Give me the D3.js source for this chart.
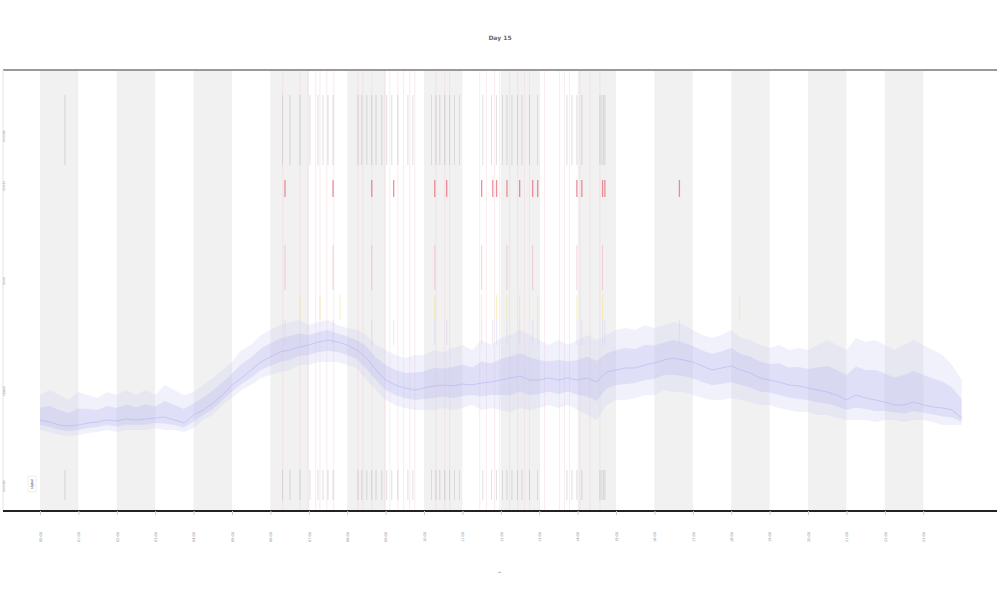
<!DOCTYPE html>
<html><head><meta charset="utf-8">
<script src="https://cdn.jsdelivr.net/npm/d3@7"></script>
<style>body{margin:0;background:#fff}svg{display:block}text{font-family:"DejaVu Sans",sans-serif}</style>
</head><body>
<script>
// ---- data ----
const title = "Day 15";
const xLabel = "t";
const yLabels = ["events", "alerts", "level", "signal", "events"];
const tickLabels = d3.range(0, 24).map(h => String(h).padStart(2, "0") + ":00");
const bandStarts = [0, 2, 4, 6, 8, 10, 12, 14, 16, 18, 20, 22];
const sampleT = d3.range(0, 24.01, 0.25);
const signalHi = [11.6,12.1,11.6,11.1,11.9,11.6,11.3,11.9,11.6,12.1,11.6,12.1,11.6,12.6,12.1,11.6,11.9,12.6,13.3,14.1,14.9,16.1,16.6,17.6,18.1,18.6,18.9,19.1,18.6,18.9,19.1,18.6,18.3,18.1,17.6,16.6,16.1,15.6,15.3,15.6,15.6,16.1,15.9,16.3,16.6,16.1,17.1,16.6,17.3,17.6,18.1,17.6,17.1,16.6,17.1,16.6,17.1,17.6,17.1,17.6,18.1,18.3,18.1,18.6,18.3,18.6,18.9,18.6,18.1,17.6,17.3,17.6,18.1,17.3,17.1,16.6,16.3,16.6,16.1,16.3,16.1,16.6,17.1,16.6,16.1,17.3,16.9,17.1,16.6,16.1,16.6,17.1,16.6,16.1,15.6,14.6,13.1];
const signalLo = [8.1,7.9,7.6,7.5,7.6,7.8,7.9,8.1,7.9,8.1,8.1,8.1,8.3,8.1,8.1,7.9,8.3,9.1,9.6,10.6,11.3,12.1,12.6,13.3,13.6,13.9,14.1,14.6,14.6,14.9,14.9,14.9,14.6,14.3,13.1,12.1,11.1,10.6,10.3,10.1,10.1,10.1,10.3,10.1,10.3,10.6,10.1,10.3,10.1,9.9,10.3,10.1,10.3,10.6,10.3,10.6,10.1,9.6,9.1,10.6,11.1,11.1,11.3,11.6,11.6,12.1,11.9,11.9,11.6,11.3,11.1,11.1,11.3,11.1,10.9,10.6,10.6,10.3,10.1,9.9,9.9,9.6,9.6,9.3,9.1,9.1,9.1,8.9,9.1,9.1,8.9,9.1,9.1,8.9,8.6,8.6,8.6];
const signalMid = [9.1,8.9,8.6,8.5,8.6,8.8,8.9,9.1,9.0,9.2,9.1,9.2,9.3,9.4,9.1,8.8,9.6,10.1,10.8,11.6,12.6,13.3,14.1,14.9,15.4,15.9,16.1,16.4,16.6,16.9,17.1,16.9,16.6,16.1,15.3,14.1,13.1,12.6,12.3,12.1,12.3,12.5,12.6,12.5,12.7,12.6,12.8,12.9,13.1,13.3,13.5,13.1,13.1,13.3,13.1,13.3,13.1,13.3,12.9,13.9,14.1,14.3,14.3,14.6,14.8,15.1,15.3,15.1,14.9,14.5,14.1,14.3,14.5,14.1,13.8,13.3,13.1,12.9,12.6,12.5,12.3,12.1,11.9,11.6,11.1,11.6,11.3,11.1,10.9,10.6,10.6,10.9,10.6,10.4,10.3,10.1,9.3];
const eventTimes = [0.65,6.32,6.51,6.77,7.03,7.24,7.37,7.50,7.63,8.28,8.38,8.51,8.64,8.75,8.90,9.03,9.16,9.32,9.58,9.71,10.20,10.31,10.41,10.54,10.67,10.80,10.93,11.53,11.76,11.89,12.05,12.16,12.29,12.44,12.55,12.75,12.96,13.72,13.85,13.98,14.11,14.58,14.63,14.67,14.71];
const alertTimes = [6.38,7.63,8.64,9.21,10.28,10.59,11.50,11.79,11.89,12.16,12.49,12.83,12.96,13.98,14.11,14.65,14.71,16.65];
const alertMidTimes = [6.38,7.63,8.64,10.28,11.50,12.16,12.83,13.98,14.65];
const warnTimes = [6.77,7.29,7.81,10.28,11.50,11.89,12.16,12.49,12.96,13.98,14.65,18.22];
const markerTimes = [6.32,6.77,6.98,7.18,7.29,7.47,7.65,8.28,8.41,8.64,8.98,9.11,9.32,9.47,9.63,9.76,10.31,10.54,10.67,11.45,11.63,11.84,11.97,12.23,12.44,12.62,12.75,13.01,13.14,13.53,13.66,13.79,14.06,14.32,14.58];

// ---- chart ----
const W = 1000, H = 600;
const svg = d3.select("body").append("svg").attr("width", W).attr("height", H);
const x = d3.scaleLinear().domain([-0.963, 24.92]).range([3, 997]);
const y = d3.scaleLinear().domain([0, 44.1]).range([511, 70]);

// alternating bands
svg.append("g").selectAll("rect").data(bandStarts).join("rect")
  .attr("x", d => x(d)).attr("width", d => x(d + 1) - x(d))
  .attr("y", y(44.1)).attr("height", y(0) - y(44.1))
  .attr("fill", "#f1f1f1");

// full-height marker lines
svg.append("g").selectAll("line").data(markerTimes).join("line")
  .attr("x1", d => x(d)).attr("x2", d => x(d))
  .attr("y1", y(44.1)).attr("y2", y(0))
  .attr("stroke", "#f4ccd6").attr("stroke-width", 0.7).attr("opacity", 0.55);

function ticks(data, v1, v2, color, w, op) {
  svg.append("g").selectAll("line").data(data).join("line")
    .attr("x1", d => x(d)).attr("x2", d => x(d))
    .attr("y1", y(v1)).attr("y2", y(v2))
    .attr("stroke", color).attr("stroke-width", w).attr("opacity", op);
}
ticks(eventTimes, 41.6, 34.6, "#666", 0.5, 0.4);
ticks(eventTimes, 4.1, 1.1, "#666", 0.5, 0.4);
ticks(alertTimes, 33.1, 31.4, "#e4485c", 1.3, 0.6);
ticks(alertMidTimes, 26.6, 22.1, "#e86878", 0.8, 0.35);
ticks(warnTimes, 21.6, 19.1, "#f0e47a", 1, 0.5);
ticks(alertTimes, 19.1, 16.6, "#c8c8f2", 1, 0.4);

// signal envelope
const rows = sampleT.map((t, i) => ({t, hi: signalHi[i], lo: signalLo[i], mid: signalMid[i]}));
svg.append("path").datum(rows)
  .attr("d", d3.area().x(d => x(d.t)).y0(d => y(d.lo)).y1(d => y(d.hi)))
  .attr("fill", "#d0d0f6").attr("opacity", 0.3);
svg.append("path").datum(rows)
  .attr("d", d3.area().x(d => x(d.t)).y0(d => y((d.lo + d.mid) / 2)).y1(d => y((d.hi + d.mid) / 2)))
  .attr("fill", "#bcbcf2").attr("opacity", 0.35);
svg.append("path").datum(rows)
  .attr("d", d3.line().x(d => x(d.t)).y(d => y(d.mid)))
  .attr("fill", "none").attr("stroke", "#a4a4ea").attr("stroke-width", 0.7).attr("opacity", 0.6);

// frame lines
svg.append("line").attr("x1", 3).attr("x2", 997).attr("y1", y(44.1)).attr("y2", y(44.1))
  .attr("stroke", "#999").attr("stroke-width", 2);
svg.append("line").attr("x1", 3).attr("x2", 3).attr("y1", y(44.1)).attr("y2", y(0))
  .attr("stroke", "#e4e4e4").attr("stroke-width", 1);

// x axis
const xAxis = d3.axisBottom(x).tickValues(d3.range(0, 24)).tickFormat((d, i) => tickLabels[i]).tickSize(4);
const gx = svg.append("g").attr("transform", `translate(0,${y(0)})`).call(xAxis);
gx.select(".domain").attr("stroke", "#222").attr("stroke-width", 2).attr("d", "M3,0H997");
gx.selectAll(".tick line").attr("stroke", "#ccc");
gx.selectAll(".tick text").attr("font-size", 3.5).attr("fill", "#888")
  .attr("transform", "translate(0,26) rotate(-90)").attr("text-anchor", "middle").attr("dy", "0.35em").attr("y", 0);

// y labels (tiny)
const yPos = [37.5, 32.5, 23, 12, 2.5];
svg.append("g").selectAll("text").data(yLabels).join("text")
  .attr("transform", (d, i) => `translate(5,${y(yPos[i])}) rotate(-90)`)
  .attr("text-anchor", "middle").attr("font-size", 3.5).attr("fill", "#aaa").text(d => d);

// legend
const lg = svg.append("g").attr("transform", "translate(28,476)");
lg.append("rect").attr("width", 8).attr("height", 16).attr("fill", "#fff").attr("stroke", "#ddd").attr("stroke-width", 0.5);
lg.append("text").attr("transform", "translate(5,8) rotate(-90)").attr("text-anchor", "middle")
  .attr("font-size", 3.5).attr("fill", "#555").text("signal");

// title and axis label
svg.append("text").attr("x", 500).attr("y", 40).attr("text-anchor", "middle")
  .attr("font-size", 6).attr("font-weight", "bold").attr("fill", "#666").text(title);
svg.append("text").attr("transform", "translate(501,572) rotate(-90)").attr("text-anchor", "middle")
  .attr("font-size", 4).attr("fill", "#888").text(xLabel);
</script>
</body></html>
